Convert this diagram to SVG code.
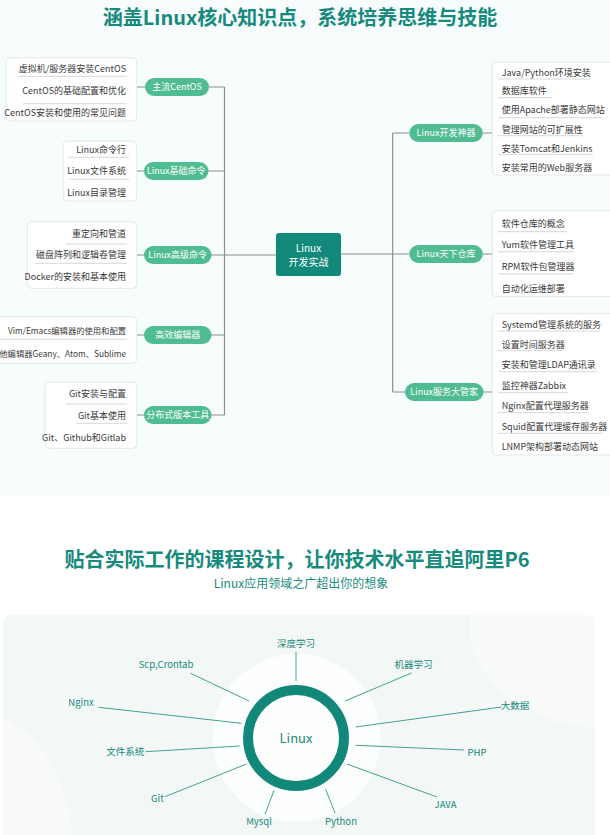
<svg xmlns="http://www.w3.org/2000/svg" width="610" height="835" viewBox="0 0 610 835">
<defs>
<style>
text{font-family:"Noto Sans CJK SC","Noto Sans",sans-serif}
.title{font-size:20px;font-weight:700;fill:#168a7d;text-anchor:middle}
.sub{font-size:12px;fill:#1d8c7e;text-anchor:middle}
.pill rect{fill:#50bc91}
.pill text{font-size:9px;fill:#fff;text-anchor:middle}
.list{fill:#fff;stroke:#e4e8e8;stroke-width:1}
.it{font-size:9px;fill:#3a3a3a}
.l .it{text-anchor:end}
.it.sm{font-size:8.3px}
.ul{stroke:#d6d9d9;stroke-width:1}
.con{stroke:#8e8e8e;stroke-width:1.2;fill:none}
.spk{stroke:#2a9888;stroke-width:0.9}
.lbl{font-size:9.5px;fill:#16897b;text-anchor:middle}
</style>
<clipPath id="pc"><rect x="3" y="615" width="592" height="230" rx="7"/></clipPath>
</defs>
<rect x="0" y="0" width="610" height="497" fill="#f7fcfd"/>
<rect x="0" y="497" width="610" height="338" fill="#fff"/>
<text class="title" x="300" y="25">涵盖Linux核心知识点，系统培养思维与技能</text>

<g id="connectors">
<path class="con" d="M224.5 87V415M209 87H224.5M208 171H224.5M211 255H276M211 335H224.5M211 415H224.5"/>
<path class="con" d="M392.7 133V392M341 254H409M392.7 133H409M392.7 392H405"/>
<path class="con" d="M136.7 87H145M136.7 171H144M136.7 255H144M136.7 335H144M136.7 415H144"/>
<path class="con" d="M483 133H492.3M483 254H492.3M483 392H492.3"/>
</g>

<g id="center">
<rect x="276" y="233" width="65" height="43" rx="3" fill="#12897b"/>
<text x="308.5" y="251.5" font-size="10" fill="#fff" text-anchor="middle">Linux</text>
<text x="308.5" y="266" font-size="10" fill="#fff" text-anchor="middle">开发实战</text>
</g>

<g id="n-centos" class="pill"><rect x="145" y="78" width="64" height="18" rx="9"/><text x="177" y="90.2">主流CentOS</text></g>
<g id="n-basic" class="pill"><rect x="144" y="162" width="64.5" height="18" rx="9"/><text x="176.2" y="174.2">Linux基础命令</text></g>
<g id="n-adv" class="pill"><rect x="144" y="246" width="67.5" height="18" rx="9"/><text x="177.7" y="258.2">Linux高级命令</text></g>
<g id="n-editor" class="pill"><rect x="144" y="326" width="67.5" height="18" rx="9"/><text x="177.7" y="338.2">高效编辑器</text></g>
<g id="n-git" class="pill"><rect x="144" y="406" width="67.5" height="18" rx="9"/><text x="177.7" y="418.2">分布式版本工具</text></g>

<g id="n-dev" class="pill"><rect x="409.3" y="124" width="73.5" height="18" rx="9"/><text x="446" y="136.2">Linux开发神器</text></g>
<g id="n-repo" class="pill"><rect x="409.3" y="245" width="73.5" height="18" rx="9"/><text x="446" y="257.2">Linux天下仓库</text></g>
<g id="n-svc" class="pill"><rect x="405" y="383" width="78.5" height="18" rx="9"/><text x="444.2" y="395.2">Linux服务大管家</text></g>

<g id="list-centos" class="l">
<rect class="list" x="6" y="57.7" width="130.7" height="63.3" rx="4"/>
<text class="it" x="126" y="71.5">虚拟机/服务器安装CentOS</text>
<line class="ul" x1="18" y1="76.3" x2="127" y2="76.3"/>
<text class="it" x="126" y="94.2">CentOS的基础配置和优化</text>
<line class="ul" x1="23" y1="103.7" x2="127" y2="103.7"/>
<text class="it" x="126" y="115.5">CentOS安装和使用的常见问题</text>
</g>
<g id="list-basic" class="l">
<rect class="list" x="63.3" y="141" width="73.4" height="60" rx="4"/>
<text class="it" x="126" y="152.5">Linux命令行</text>
<line class="ul" x1="68.3" y1="157.3" x2="129" y2="157.3"/>
<text class="it" x="126" y="174.2">Linux文件系统</text>
<line class="ul" x1="69" y1="179.3" x2="129" y2="179.3"/>
<text class="it" x="126" y="195.5">Linux目录管理</text>
</g>
<g id="list-adv" class="l">
<rect class="list" x="27.3" y="221.7" width="109.4" height="66.6" rx="4"/>
<text class="it" x="126" y="236.5">重定向和管道</text>
<line class="ul" x1="66" y1="244" x2="127" y2="244"/>
<text class="it" x="126" y="257.5">磁盘阵列和逻辑卷管理</text>
<line class="ul" x1="35" y1="263.3" x2="127" y2="263.3"/>
<text class="it" x="126" y="279.9">Docker的安装和基本使用</text>
</g>
<g id="list-editor" class="l">
<rect class="list" x="-10" y="316.7" width="146.7" height="46.6" rx="4"/>
<text class="it sm" x="126" y="333.9">Vim/Emacs编辑器的使用和配置</text>
<line class="ul" x1="0" y1="339.3" x2="127" y2="339.3"/>
<text class="it sm" x="126" y="356.5">其他编辑器Geany、Atom、Sublime</text>
</g>
<g id="list-git" class="l">
<rect class="list" x="45" y="382.3" width="91.7" height="66" rx="4"/>
<text class="it" x="126" y="397.2">Git安装与配置</text>
<line class="ul" x1="66" y1="404" x2="127" y2="404"/>
<text class="it" x="126" y="418.9">Git基本使用</text>
<line class="ul" x1="76" y1="423.3" x2="127" y2="423.3"/>
<text class="it" x="126" y="440.5">Git、Github和Gitlab</text>
</g>

<g id="list-dev">
<rect class="list" x="492.3" y="62.3" width="125" height="112.7" rx="4"/>
<text class="it" x="501.7" y="75.5">Java/Python环境安装</text>
<line class="ul" x1="498" y1="79" x2="591" y2="79"/>
<text class="it" x="501.7" y="94.2">数据库软件</text>
<line class="ul" x1="498" y1="97.7" x2="552" y2="97.7"/>
<text class="it" x="501.7" y="113.2">使用Apache部署静态网站</text>
<line class="ul" x1="498" y1="117.7" x2="602" y2="117.7"/>
<text class="it" x="501.7" y="133.2">管理网站的可扩展性</text>
<line class="ul" x1="498" y1="135.7" x2="583" y2="135.7"/>
<text class="it" x="501.7" y="151.5">安装Tomcat和Jenkins</text>
<line class="ul" x1="498" y1="154.3" x2="593" y2="154.3"/>
<text class="it" x="501.7" y="170.9">安装常用的Web服务器</text>
</g>
<g id="list-repo">
<rect class="list" x="492.3" y="210.7" width="125" height="86" rx="4"/>
<text class="it" x="501.7" y="227.2">软件仓库的概念</text>
<line class="ul" x1="498" y1="231.7" x2="567" y2="231.7"/>
<text class="it" x="501.7" y="247.5">Yum软件管理工具</text>
<line class="ul" x1="498" y1="251.7" x2="574" y2="251.7"/>
<text class="it" x="501.7" y="269.9">RPM软件包管理器</text>
<line class="ul" x1="498" y1="274" x2="574" y2="274"/>
<text class="it" x="501.7" y="291.5">自动化运维部署</text>
</g>
<g id="list-svc">
<rect class="list" x="492.3" y="313.3" width="125" height="141.7" rx="4"/>
<text class="it" x="501.7" y="327.5">Systemd管理系统的服务</text>
<line class="ul" x1="498" y1="331" x2="600" y2="331"/>
<text class="it" x="501.7" y="347.5">设置时间服务器</text>
<line class="ul" x1="498" y1="350.7" x2="563" y2="350.7"/>
<text class="it" x="501.7" y="367.5">安装和管理LDAP通讯录</text>
<line class="ul" x1="498" y1="371.7" x2="597" y2="371.7"/>
<text class="it" x="501.7" y="389.2">监控神器Zabbix</text>
<line class="ul" x1="498" y1="392.7" x2="568" y2="392.7"/>
<text class="it" x="501.7" y="409.2">Nginx配置代理服务器</text>
<line class="ul" x1="498" y1="412.7" x2="587" y2="412.7"/>
<text class="it" x="501.7" y="429.9">Squid配置代理缓存服务器</text>
<line class="ul" x1="498" y1="433.3" x2="603" y2="433.3"/>
<text class="it" x="501.7" y="449.9">LNMP架构部署动态网站</text>
</g>

<text class="title" x="297" y="567">贴合实际工作的课程设计，让你技术水平直追阿里P6</text>
<text class="sub" x="301" y="588">Linux应用领域之广超出你的想象</text>

<g clip-path="url(#pc)">
<rect x="3" y="615" width="592" height="230" fill="#f3f7f6"/>
<ellipse cx="604" cy="625" rx="134" ry="103" fill="#f9fbfa"/>
<ellipse cx="-30" cy="850" rx="103" ry="140" fill="#f9fbfa"/>
</g>
<circle cx="296.5" cy="738" r="84" fill="#fdfefe"/>

<g id="spokes">
<line class="spk" x1="296" y1="652" x2="296" y2="681"/>
<line class="spk" x1="411.5" y1="673" x2="345" y2="701"/>
<line class="spk" x1="501.5" y1="707" x2="355.6" y2="727"/>
<line class="spk" x1="464" y1="750" x2="355.6" y2="745.3"/>
<line class="spk" x1="437" y1="797" x2="347" y2="764"/>
<line class="spk" x1="335" y1="813" x2="325.5" y2="789"/>
<line class="spk" x1="265" y1="814.3" x2="274" y2="790.3"/>
<line class="spk" x1="165" y1="796.7" x2="246.5" y2="764"/>
<line class="spk" x1="145.6" y1="751.7" x2="239.5" y2="746"/>
<line class="spk" x1="98.7" y1="707.3" x2="241.4" y2="723.3"/>
<line class="spk" x1="190.6" y1="673.3" x2="249" y2="701"/>
</g>

<g id="ring">
<circle cx="296" cy="738" r="48" fill="none" stroke="#12887a" stroke-width="10"/>
<text x="296" y="742.5" font-size="13" fill="#1a8a7c" text-anchor="middle">Linux</text>
</g>

<g id="labels">
<text class="lbl" x="296" y="646.5">深度学习</text>
<text class="lbl" x="413.5" y="667.5">机器学习</text>
<text class="lbl" x="515" y="708.5">大数据</text>
<text class="lbl" x="477" y="755.5">PHP</text>
<text class="lbl" x="445.5" y="807.5">JAVA</text>
<text class="lbl" x="341" y="824.5">Python</text>
<text class="lbl" x="259" y="824.5">Mysql</text>
<text class="lbl" x="157.4" y="801.5">Git</text>
<text class="lbl" x="125.3" y="754.5">文件系统</text>
<text class="lbl" x="81" y="705.5">Nginx</text>
<text class="lbl" x="166" y="667.5">Scp,Crontab</text>
</g>
</svg>
